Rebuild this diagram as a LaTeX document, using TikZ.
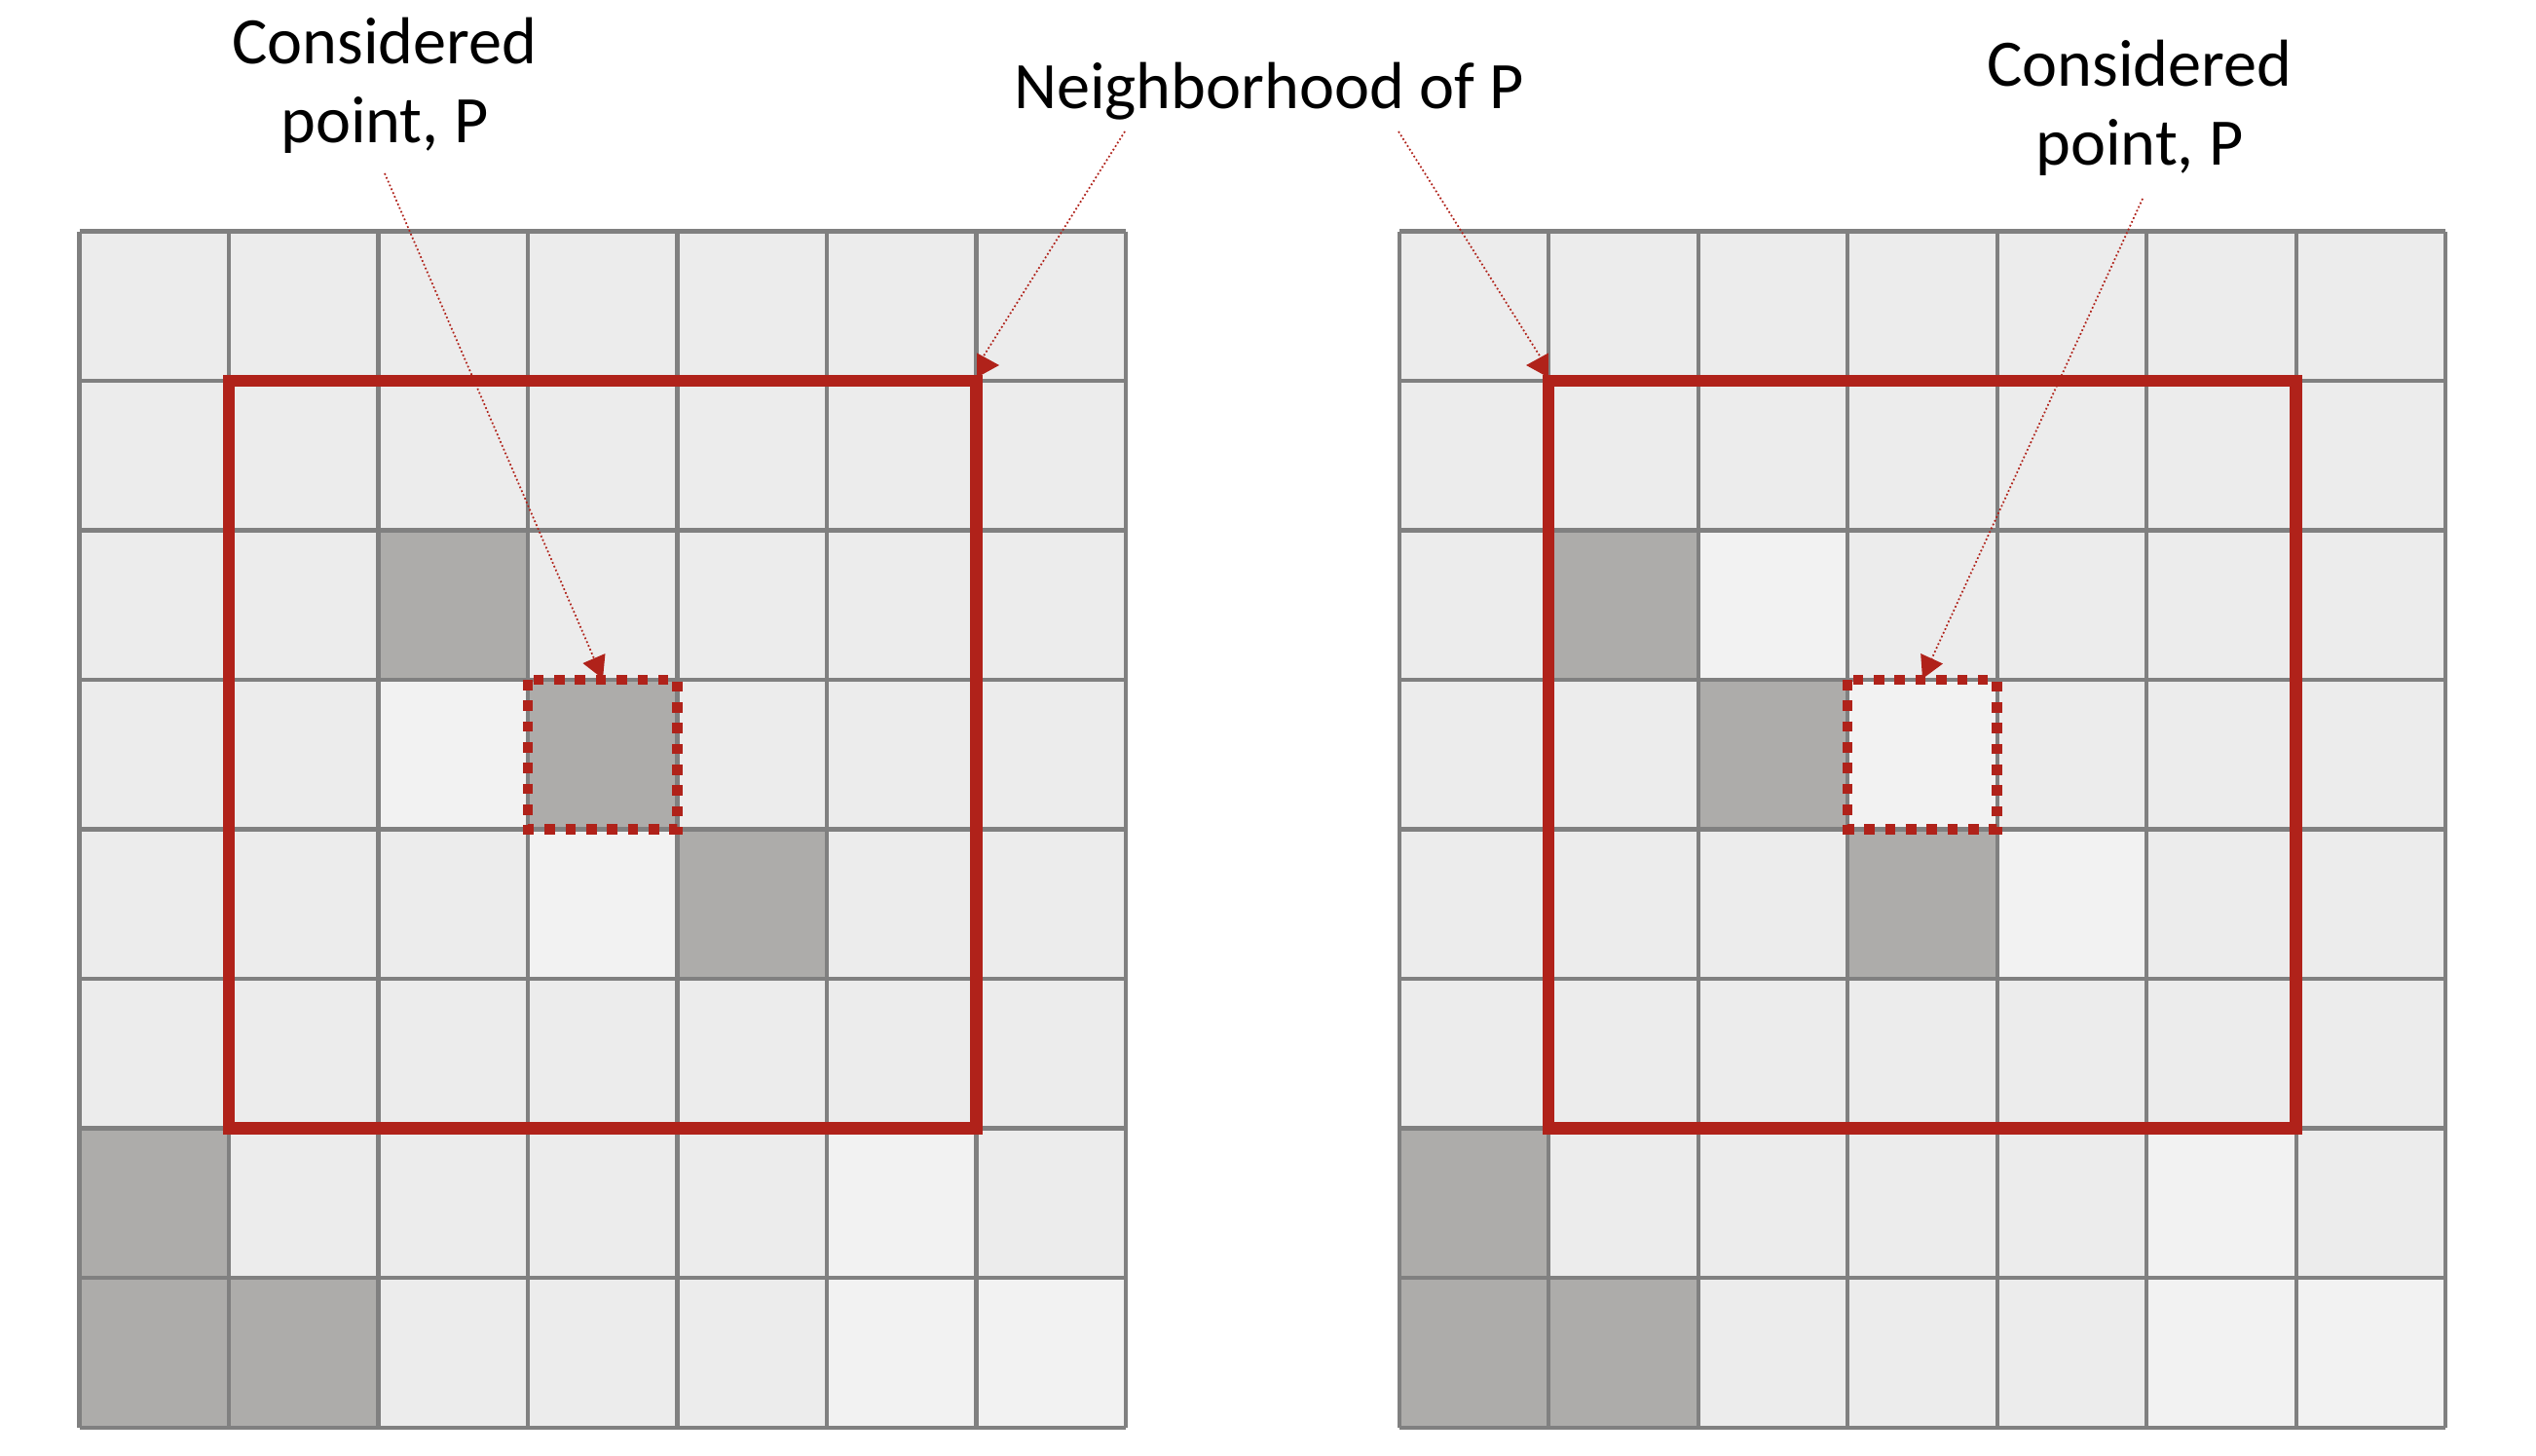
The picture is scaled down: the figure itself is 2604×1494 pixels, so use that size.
\documentclass[tikz,border=0pt]{standalone}
\usepackage{fontspec}
\setmainfont{Carlito}
\usetikzlibrary{arrows.meta}
\definecolor{cellA}{HTML}{ECECEC}
\definecolor{cellB}{HTML}{F2F2F2}
\definecolor{cellD}{HTML}{ADACAA}
\definecolor{gridc}{HTML}{808080}
\definecolor{redc}{RGB}{176,34,26}
\begin{document}
\begin{tikzpicture}[x=0.01cm,y=-0.01cm,
  gridline/.style={draw=gridc,line width=1.15pt},
  nbhd/.style={draw=redc,line width=3.5pt},
  ptbox/.style={draw=redc,line width=3pt,dash pattern=on 3pt off 3.07pt},
  callout/.style={draw=redc,line width=0.5pt,dash pattern=on 0.5pt off 0.7pt,
    -{Triangle[length=6.5pt,width=7pt]}},
  lbl/.style={font=\fontsize{19.4}{23}\selectfont,align=center,inner sep=0pt}]
\useasboundingbox (0,0) rectangle (2604,1494);
\fill[white] (0,0) rectangle (2604,1494);
\def\cs{153.5}
% ---- left grid
\fill[cellA] (81.5,237.5) rectangle ++(1074.5,1228);
\foreach \c/\r/\col in {2/2/cellD,3/3/cellD,4/4/cellD,2/3/cellB,3/4/cellB,
   0/6/cellD,0/7/cellD,1/7/cellD,5/6/cellB,5/7/cellB,6/7/cellB}
  \fill[\col] (81.5+\c*\cs,237.5+\r*\cs) rectangle ++(\cs,\cs);
\foreach \i in {0,...,7} \draw[gridline] (81.5+\i*\cs,237.5) -- ++(0,1228);
\foreach \j in {0,...,8} \draw[gridline] (81.5,237.5+\j*\cs) -- ++(1074.5,0);
% ---- right grid
\fill[cellA] (1436.5,237.5) rectangle ++(1074.5,1228);
\foreach \c/\r/\col in {1/2/cellD,2/3/cellD,3/4/cellD,2/2/cellB,3/3/cellB,4/4/cellB,
   0/6/cellD,0/7/cellD,1/7/cellD,5/6/cellB,5/7/cellB,6/7/cellB}
  \fill[\col] (1436.5+\c*\cs,237.5+\r*\cs) rectangle ++(\cs,\cs);
\foreach \i in {0,...,7} \draw[gridline] (1436.5+\i*\cs,237.5) -- ++(0,1228);
\foreach \j in {0,...,8} \draw[gridline] (1436.5,237.5+\j*\cs) -- ++(1074.5,0);
% ---- neighbourhoods
\draw[nbhd] (235,391) rectangle (1002.5,1158.5);
\draw[nbhd] (1590,391) rectangle (2357.5,1158.5);
% ---- considered points
\draw[ptbox] (542,698) rectangle (695.5,851.5);
\draw[ptbox] (1897,698) rectangle (2050.5,851.5);
% ---- labels
\node[lbl] (cpL) at (395,88) {Considered\\point, P};
\node[lbl,anchor=base] (nb) at (1303,112) {Neighborhood of P};
\node[lbl] (cpR) at (2197,111) {Considered\\point, P};
% ---- callouts
\coordinate (cpLs) at (395,178);
\coordinate (cpLt) at (619,697);
\coordinate (cpRs) at (2200,204);
\coordinate (cpRt) at (1974,697);
\coordinate (nbLs) at (1155,135);
\coordinate (nbLb) at (1004,375);
\coordinate (nbLt) at (1026,375);
\coordinate (nbRs) at (1436,135);
\coordinate (nbRb) at (1587,375);
\coordinate (nbRt) at (1567,375);
\draw[callout] (cpLs) -- (cpLt);
\draw[callout] (cpRs) -- (cpRt);
\draw[callout] (nbLs) -- (nbLb) -- (nbLt);
\draw[callout] (nbRs) -- (nbRb) -- (nbRt);
\end{tikzpicture}
\end{document}
